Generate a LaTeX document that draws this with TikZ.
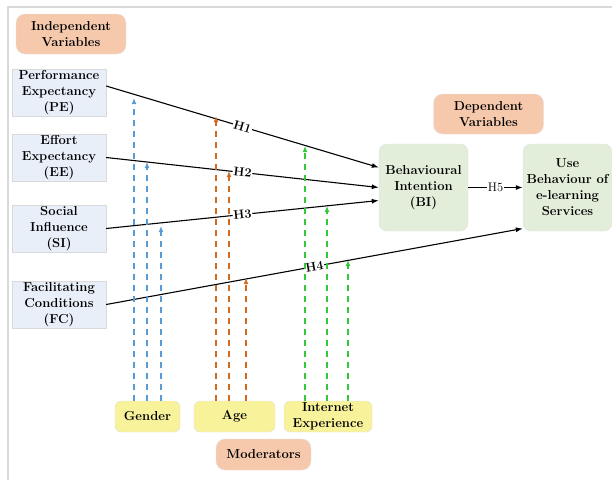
\documentclass[tikz,border=0pt]{standalone}
\usepackage{fontspec}
\usepackage{tikz}
\usetikzlibrary{arrows.meta}

\definecolor{peach}{HTML}{F6C9AC}
\definecolor{paleblue}{HTML}{E9EFF9}
\definecolor{palegreen}{HTML}{E3EEDA}
\definecolor{paleyellow}{HTML}{F8F29B}
\definecolor{modblue}{HTML}{5B9BD5}
\definecolor{modorange}{HTML}{D2691E}
\definecolor{modgreen}{HTML}{33C83A}

\begin{document}
\begin{tikzpicture}[x=1pt,y=-1pt,font=\fontsize{13}{16}\selectfont\bfseries,every node/.style={align=center,inner sep=0pt},title/.style={fill=peach,draw=black!10,rounded corners=9pt,minimum width=110,minimum height=40},invar/.style={fill=paleblue,draw=black!15,minimum width=94,minimum height=47},outvar/.style={fill=palegreen,draw=black!12,rounded corners=8pt,minimum width=89,minimum height=87},moder/.style={fill=paleyellow,draw=black!12,rounded corners=6pt,minimum height=31},hypline/.style={draw,line width=1.1pt,-{Latex[length=7pt,width=5pt]}},hyp/.style={midway,sloped,fill=white,inner sep=0.8pt,font=\fontsize{12.5}{14}\selectfont\bfseries},modline/.style={line width=1.4pt,dash pattern=on 6pt off 5pt,-{Latex[length=6pt,width=5pt]}}]
\useasboundingbox (0,0) rectangle (612,480);
% frame
\draw[black!15,line width=1.5pt] (8,480) -- (8,7) -- (612,7);

% independent variables
\node[title] (indep) at (71,34) {Independent\\Variables};
\node[invar] (pe) at (59,92.5) {Performance\\Expectancy\\(PE)};
\node[invar] (ee) at (59,157.5) {Effort\\Expectancy\\(EE)};
\node[invar] (si) at (59,228.5) {Social\\Influence\\(SI)};
\node[invar] (fc) at (59,304.5) {Facilitating\\Conditions\\(FC)};

% dependent variables
\node[title] (dep) at (488.5,114) {Dependent\\Variables};
\node[outvar] (bi) at (423.5,187.5) {Behavioural\\Intention\\(BI)};
\node[outvar] (use) at (567.5,187.5) {Use\\Behaviour of\\e-learning\\Services};

% moderators
\node[moder,minimum width=65] (gender) at (147.5,416.5) {Gender};
\node[moder,minimum width=81] (age) at (234.5,416.5) {Age};
\node[moder,minimum width=88] (inet) at (328,416.5) {Internet\\Experience};
\node[title,minimum width=95,minimum height=31] (mods) at (263.5,454.5) {Moderators};

% hypotheses
\draw[hypline] ([yshift=6.5pt]pe.east) -- node[hyp] {H1} ([yshift=20pt]bi.west);
\draw[hypline] (ee.east) -- node[hyp] {H2} (bi.west);
\draw[hypline] (si.east) -- node[hyp] {H3} ([yshift=-13pt]bi.west);
\draw[hypline] (fc.east) -- node[hyp] {H4} ([yshift=-41pt]use.west);
\draw[hypline] (bi) -- node[hyp,font=\fontsize{12.5}{14}\selectfont] {H5} (use);

% moderating effects
\coordinate (g1) at (134,98);
\coordinate (g2) at (147,162);
\coordinate (g3) at (161,226);
\coordinate (a1) at (216,116);
\coordinate (a2) at (229,171);
\coordinate (a3) at (246,278);
\coordinate (i1) at (305,146);
\coordinate (i2) at (327,206);
\coordinate (i3) at (348,260);
\draw[modline,modblue] (gender.north -| g1) -- (g1);
\draw[modline,modblue] (gender.north -| g2) -- (g2);
\draw[modline,modblue] (gender.north -| g3) -- (g3);
\draw[modline,modorange] (age.north -| a1) -- (a1);
\draw[modline,modorange] (age.north -| a2) -- (a2);
\draw[modline,modorange] (age.north -| a3) -- (a3);
\draw[modline,modgreen] (inet.north -| i1) -- (i1);
\draw[modline,modgreen] (inet.north -| i2) -- (i2);
\draw[modline,modgreen] (inet.north -| i3) -- (i3);
\end{tikzpicture}
\end{document}
